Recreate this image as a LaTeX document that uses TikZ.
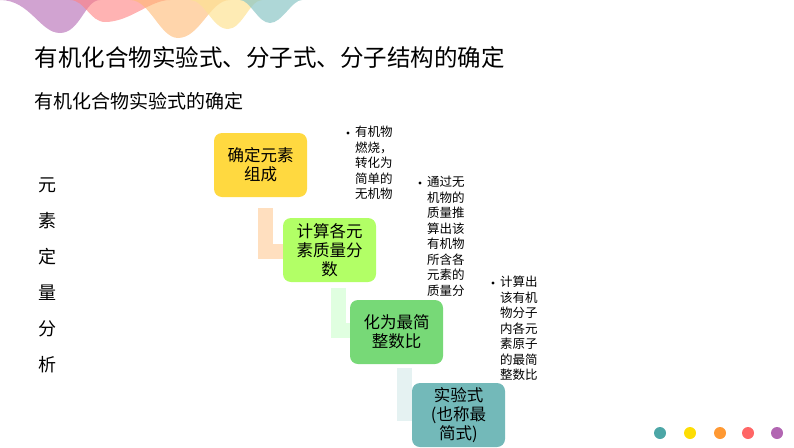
\documentclass[tikz,border=0pt]{standalone}
\usepackage{fontspec}
\setmainfont{Noto Sans CJK SC}
\begin{document}
\begin{tikzpicture}[x=1pt,y=-1pt,
  stepbox/.style={rounded corners=8pt,minimum width=93pt,minimum height=64pt,align=center,font=\fontsize{16.5}{19}\selectfont,inner sep=2pt},
  bul/.style={anchor=north west,align=left,font=\fontsize{12.5}{15.5}\selectfont,inner sep=0pt},
  conn/.style={line width=15pt}]
\useasboundingbox (0,0) rectangle (794,447);
% waves
\fill[violet!60!white,opacity=0.6] (0,0) .. controls (30,0) and (40,33) .. (60,33) .. controls (80,33) and (85,0) .. (100,0) -- cycle;
\fill[red!50!white,opacity=0.6] (70,0) .. controls (85,0) and (90,22) .. (105,22) .. controls (130,22) and (150,0) .. (170,0) -- cycle;
\fill[orange!55!white,opacity=0.6] (130,0) .. controls (150,0) and (160,38) .. (178,38) .. controls (200,38) and (210,0) .. (230,0) -- cycle;
\fill[yellow!50!orange!40!white,opacity=0.7] (190,0) .. controls (205,0) and (212,29) .. (228,29) .. controls (242,29) and (250,0) .. (262,0) -- cycle;
\fill[teal!45!white,opacity=0.7] (240,0) .. controls (250,0) and (258,23) .. (270,23) .. controls (282,23) and (292,0) .. (302,0) -- cycle;
% titles
\node[anchor=west,font=\fontsize{23.5}{26}\selectfont] (t) at (31,58) {有机化合物实验式、分子式、分子结构的确定};
\node[anchor=west,font=\fontsize{19}{22}\selectfont] (s) at (31,101) {有机化合物实验式的确定};
\node[align=center,font=\fontsize{18}{36}\selectfont] (v) at (47,275) {元\\素\\定\\量\\分\\析};
% connectors
\coordinate (c1a) at (265,208); \coordinate (c1b) at (265,251); \coordinate (c1c) at (284,251);
\coordinate (c2a) at (338,288); \coordinate (c2b) at (338,330); \coordinate (c2c) at (351,330);
\coordinate (c3a) at (404,368); \coordinate (c3b) at (404,413); \coordinate (c3c) at (413,413);
\draw[conn,color=orange!25!white] (c1a) -- (c1b) -- (c1c);
\draw[conn,color=green!12!white] (c2a) -- (c2b) -- (c2c);
\draw[conn,color=teal!10!white] (c3a) -- (c3b) -- (c3c);
% bullets
\node[bul] (b1) at (355,126) {有机物\\燃烧，\\转化为\\简单的\\无机物};
\fill (b1.north west)+(-7,7) circle (1.6);
\node[bul] (b2) at (427,176) {通过无\\机物的\\质量推\\算出该\\有机物\\所含各\\元素的\\质量分};
\fill (b2.north west)+(-7,7) circle (1.6);
\node[bul] (b3) at (500,276) {计算出\\该有机\\物分子\\内各元\\素原子\\的最简\\整数比};
\fill (b3.north west)+(-7,7) circle (1.6);
% boxes
\node[stepbox,fill=orange!40!yellow!75!white] (n1) at (260.5,165) {确定元素\\组成};
\node[stepbox,fill=green!50!yellow!60!white] (n2) at (329.5,250) {计算各元\\素质量分\\数};
\node[stepbox,fill=green!45!white!85!black] (n3) at (396.5,332) {化为最简\\整数比};
\node[stepbox,fill=teal!55!white] (n4) at (458.5,415) {实验式\\(也称最\\简式)};
% dots
\fill[teal!70!white] (660,433) circle (6);
\fill[yellow!80!orange] (690,433) circle (6);
\fill[orange!80!white] (720,433) circle (6);
\fill[red!60!white] (748,433) circle (6);
\fill[violet!60!white] (777,433) circle (6);
\end{tikzpicture}
\end{document}
